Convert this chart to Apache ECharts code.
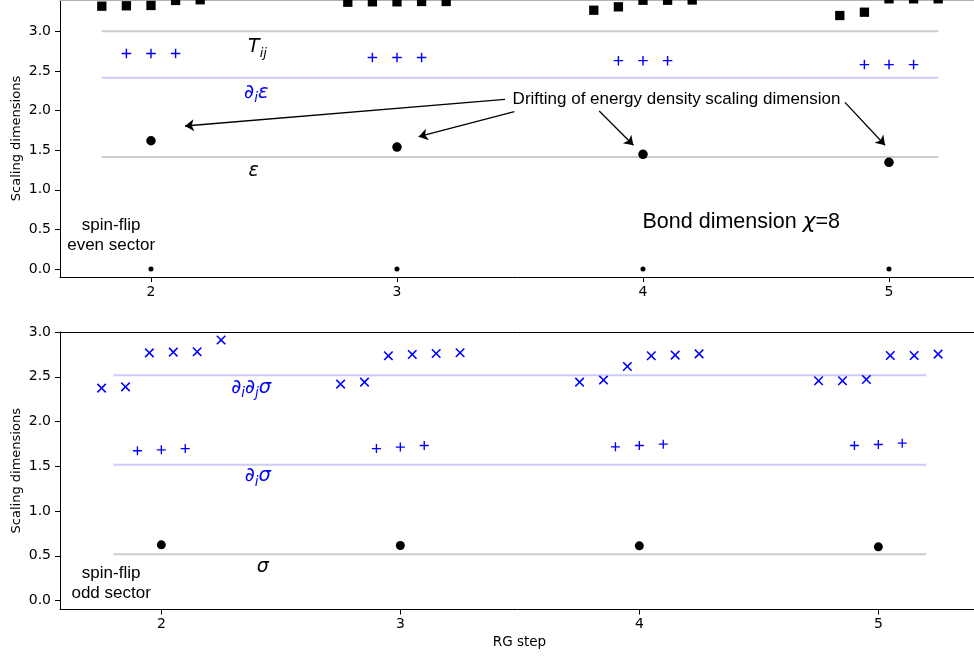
<!DOCTYPE html>
<html><head><meta charset="utf-8">
<script src="https://cdn.jsdelivr.net/npm/echarts@6/dist/echarts.min.js"></script>
<style>html,body{margin:0;padding:0;background:#fff}#c{width:974px;height:659px}</style>
</head><body><div id="c"></div>
<script>
// ---------- data ----------
const tickX = [2, 3, 4, 5];
const tickY = [0, 0.5, 1.0, 1.5, 2.0, 2.5, 3.0];

// spin-flip even sector (top panel)
const evenSquareX = [1.8,1.9,2.0,2.1,2.2, 2.8,2.9,3.0,3.1,3.2, 3.8,3.9,4.0,4.1,4.2, 4.8,4.9,5.0,5.1,5.2];
const evenSquareY = [3.317,3.322,3.326,3.389,3.398, 3.367,3.372,3.372,3.376,3.376, 3.266,3.309,3.392,3.392,3.395, 3.199,3.241,3.41,3.41,3.41];
const evenPlusX = [1.9,2.0,2.1, 2.9,3.0,3.1, 3.9,4.0,4.1, 4.9,5.0,5.1];
const evenPlusY = [2.72,2.72,2.72, 2.67,2.67,2.67, 2.63,2.63,2.63, 2.58,2.58,2.58];
const evenCircleX = [2, 3, 4, 5];
const evenCircleY = [1.619, 1.540, 1.448, 1.347];
const evenDotX = [2, 3, 4, 5];
const evenDotY = [0, 0, 0, 0];
const evenRefValues = [3.0, 2.414, 1.414];   // T_ij, d_i eps, eps

// spin-flip odd sector (bottom panel)
const oddCrossX = [1.75,1.85,1.95,2.05,2.15,2.25, 2.75,2.85,2.95,3.05,3.15,3.25, 3.75,3.85,3.95,4.05,4.15,4.25, 4.75,4.85,4.95,5.05,5.15,5.25];
const oddCrossY = [2.373,2.387,2.767,2.775,2.779,2.91, 2.418,2.44,2.734,2.749,2.76,2.768, 2.44,2.463,2.615,2.734,2.742,2.756, 2.455,2.455,2.47,2.737,2.737,2.753];
const oddPlusX = [1.9,2.0,2.1, 2.9,3.0,3.1, 3.9,4.0,4.1, 4.9,5.0,5.1];
const oddPlusY = [1.673,1.684,1.698, 1.698,1.714,1.732, 1.717,1.732,1.747, 1.732,1.743,1.758];
const oddCircleX = [2, 3, 4, 5];
const oddCircleY = [0.622, 0.615, 0.611, 0.600];
const oddRefValues = [2.518, 1.518, 0.518];  // d_i d_j sigma, d_i sigma, sigma

const refStart = 1.8, refEnd = 5.2;

// annotation arrows (data coordinates, top panel)
const arrowFrom = [[3.439, 2.142], [3.477, 1.986], [3.822, 1.995], [4.821, 2.104]];
const arrowTo   = [[2.138, 1.805], [3.088, 1.670], [3.961, 1.562], [4.984, 1.562]];

// ---------- helpers ----------
const zip = (xs, ys) => xs.map((x, i) => [x, ys[i]]);
const DV = 'DejaVu Sans', LS = 'Liberation Sans';
const GREY = '#cccccc', LBLUE = '#ccccff', BLUE = '#0000ff';
const PLUS = 'path://M4.25,0H5.75V4.25H10V5.75H5.75V10H4.25V5.75H0V4.25H4.25Z';
const CROSS = 'path://M4.35,0H5.65V4.35H10V5.65H5.65V10H4.35V5.65H0V4.35H4.35Z';

function refLine(v, color, gi) {
  return { type: 'line', xAxisIndex: gi, yAxisIndex: gi, data: [[refStart, v], [refEnd, v]],
    symbol: 'none', lineStyle: { color: color, width: 2 }, silent: true, z: 1 };
}
function scatter(gi, data, symbol, size, color, extra) {
  return Object.assign({ type: 'scatter', xAxisIndex: gi, yAxisIndex: gi, data: data,
    symbol: symbol, symbolSize: size, itemStyle: { color: color, opacity: 1 }, silent: true, z: 3 }, extra || {});
}

const rich = {
  mi:   { fontFamily: DV, fontStyle: 'italic', fontSize: 19, color: '#000', lineHeight: 26 },
  sub:  { fontFamily: DV, fontStyle: 'italic', fontSize: 13, color: '#000', verticalAlign: 'bottom', lineHeight: 14 },
  bi:   { fontFamily: DV, fontStyle: 'italic', fontSize: 19.5, color: BLUE, lineHeight: 26 },
  bsub: { fontFamily: DV, fontStyle: 'italic', fontSize: 13.5, color: BLUE, verticalAlign: 'bottom', lineHeight: 14 },
  t:    { fontFamily: LS, fontSize: 17, color: '#000', lineHeight: 20 },
  big:  { fontFamily: LS, fontSize: 21.5, color: '#000' },
  bigmi:{ fontFamily: DV, fontStyle: 'italic', fontSize: 21.5, color: '#000' }
};
function note(x, y, text, align) {
  return { value: [x, y], label: { show: true, position: [0, 0], formatter: text, color: '#000', opacity: 1,
    align: align || 'center', verticalAlign: 'middle', rich: rich } };
}
function noteSeries(gi, items) {
  return { type: 'scatter', xAxisIndex: gi, yAxisIndex: gi, data: items, symbolSize: 1,
    itemStyle: { color: '#fff', opacity: 1 }, silent: true, z: 5, clip: false };
}

function xAxis(gi, min, max, opts) {
  return Object.assign({
    gridIndex: gi, type: 'value', min: min, max: max,
    axisLine: { show: true, onZero: false, lineStyle: { color: '#000', width: 1 } },
    axisTick: { show: true, customValues: tickX, length: 5, lineStyle: { color: '#000', width: 1 } },
    axisLabel: { show: true, customValues: tickX, fontFamily: DV, fontSize: 14, color: '#000', margin: 8 },
    splitLine: { show: false }
  }, opts || {});
}
function spine(gi, min, max, color) {
  return { gridIndex: gi, type: 'value', position: 'top', min: min, max: max,
    axisLine: { show: true, onZero: false, lineStyle: { color: color, width: 1 } },
    axisTick: { show: false }, axisLabel: { show: false }, splitLine: { show: false } };
}
function yAxis(gi, min, max) {
  return {
    gridIndex: gi, type: 'value', min: min, max: max,
    name: 'Scaling dimensions', nameLocation: 'middle', nameGap: 37, nameRotate: 90, nameMoveOverlap: false,
    nameTextStyle: { fontFamily: DV, fontSize: 13, color: '#000' },
    axisLine: { show: true, onZero: false, lineStyle: { color: '#000', width: 1 } },
    axisTick: { show: true, customValues: tickY, length: 5, lineStyle: { color: '#000', width: 1 } },
    axisLabel: { show: true, customValues: tickY, fontFamily: DV, fontSize: 14, color: '#000', margin: 9,
      formatter: v => Number(v).toFixed(1) },
    splitLine: { show: false }
  };
}

const topMin = 1.6301, topMax = 1.6301 + 919 / 246;
const botMin = 1.576, botMax = 1.576 + 919 / 239;

const chart = echarts.init(document.getElementById('c'), null, { renderer: 'canvas' });
chart.setOption({
  animation: false,
  backgroundColor: '#fff',
  textStyle: { color: '#000' },
  grid: [
    { left: 60, top: 0, width: 919, height: 277, containLabel: false, outerBoundsMode: 'none' },
    { left: 60, top: 332, width: 919, height: 277.5, containLabel: false, outerBoundsMode: 'none' }
  ],
  xAxis: [
    xAxis(0, topMin, topMax),
    xAxis(1, botMin, botMax, { name: 'RG step', nameLocation: 'middle', nameGap: 26, nameMoveOverlap: false,
      nameTextStyle: { fontFamily: DV, fontSize: 13.5, color: '#000' } }),
    spine(0, topMin, topMax, '#b0b0b0'),
    spine(1, botMin, botMax, '#000')
  ],
  yAxis: [ yAxis(0, -0.1, 3.395), yAxis(1, -0.1, 3.0) ],
  series: [
    // top panel
    refLine(evenRefValues[0], GREY, 0),
    refLine(evenRefValues[1], LBLUE, 0),
    refLine(evenRefValues[2], GREY, 0),
    scatter(0, zip(evenSquareX, evenSquareY), 'rect', 9.3, '#000', { clip: false }),
    scatter(0, zip(evenPlusX, evenPlusY), PLUS, 9.5, BLUE),
    scatter(0, zip(evenCircleX, evenCircleY), 'circle', 9.5, '#000'),
    scatter(0, zip(evenDotX, evenDotY), 'circle', 5, '#000', {
      markLine: {
        silent: true, symbol: ['none', 'arrow'], symbolSize: 9,
        lineStyle: { color: '#000', width: 1.3, type: 'solid' },
        label: { show: false }, emphasis: { disabled: true },
        data: arrowFrom.map((p, i) => [{ coord: p }, { coord: arrowTo[i] }])
      }
    }),
    noteSeries(0, [
      note(2.435, 2.793, '{mi|T}{sub|ij}'),
      note(2.430, 2.218, '{bi|∂}{bsub|i}{bi|ε}'),
      note(2.419, 1.229, '{mi|ε}'),
      note(1.840, 0.417, '{t|spin-flip}\n{t|even sector}'),
      note(3.472, 2.133, '{t|Drifting of energy density scaling dimension}', 'left'),
      note(4.000, 0.585, '{big|Bond dimension }{bigmi|χ}{big|=8}', 'left')
    ]),
    // bottom panel
    refLine(oddRefValues[0], LBLUE, 1),
    refLine(oddRefValues[1], LBLUE, 1),
    refLine(oddRefValues[2], GREY, 1),
    scatter(1, zip(oddCrossX, oddCrossY), CROSS, 12, BLUE, { symbolRotate: 45 }),
    scatter(1, zip(oddPlusX, oddPlusY), PLUS, 9, BLUE),
    scatter(1, zip(oddCircleX, oddCircleY), 'circle', 9, '#000'),
    noteSeries(1, [
      note(2.378, 2.371, '{bi|∂}{bsub|i}{bi|∂}{bsub|j}{bi|σ}'),
      note(2.406, 1.384, '{bi|∂}{bsub|i}{bi|σ}'),
      note(2.427, 0.373, '{mi|σ}'),
      note(1.792, 0.186, '{t|spin-flip}\n{t|odd sector}')
    ])
  ]
});
</script></body></html>
